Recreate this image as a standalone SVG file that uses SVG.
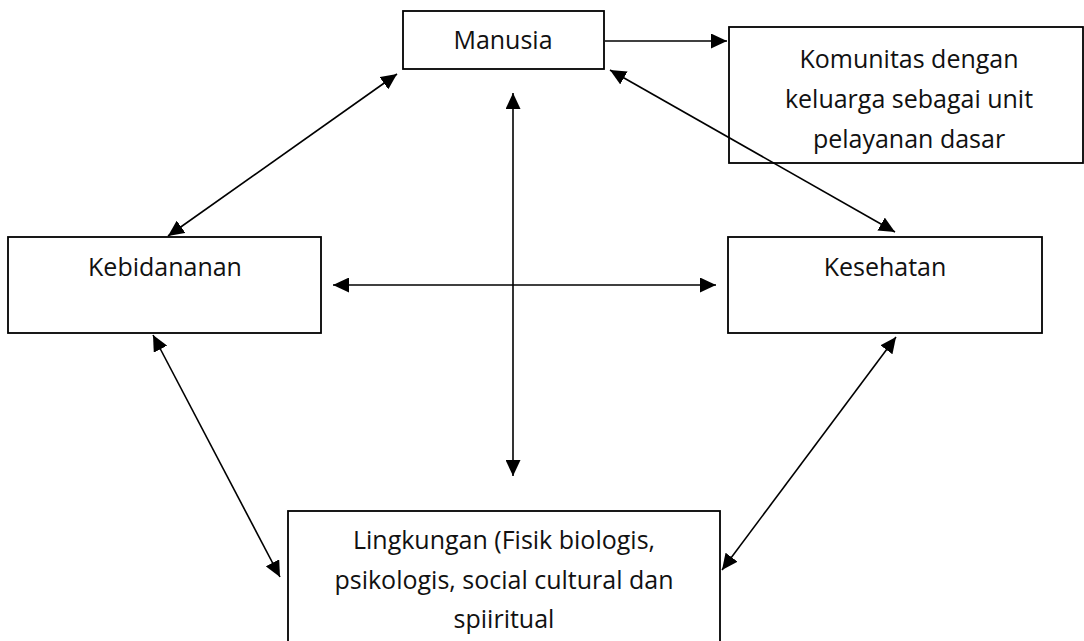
<svg xmlns="http://www.w3.org/2000/svg" width="1084" height="641" viewBox="0 0 1084 641">
<style>
.box{fill:#fff;stroke:#000;stroke-width:1.8}
.lbl{font-family:"Open Sans","Liberation Sans",sans-serif;font-size:25px;fill:#111;text-anchor:middle}
.con{stroke:#000;stroke-width:1.6;fill:none;marker-end:url(#ah);marker-start:url(#ah)}
.one{stroke:#000;stroke-width:1.6;fill:none;marker-end:url(#ah)}
</style>
<defs>
<marker id="ah" markerUnits="userSpaceOnUse" markerWidth="17" markerHeight="15" viewBox="0 0 17 15" refX="16" refY="7.5" orient="auto-start-reverse">
<path d="M0,0 L16,7.5 L0,15 Z" fill="#000"/>
</marker>
</defs>
<rect width="1084" height="641" fill="#fff"/>
<g id="manusia"><rect class="box" x="403" y="11" width="201" height="58"/><text class="lbl" x="503" y="49">Manusia</text></g>
<g id="komunitas"><rect class="box" x="729" y="27" width="354" height="136"/><text class="lbl" x="909" y="68">Komunitas dengan</text><text class="lbl" x="909" y="108">keluarga sebagai unit</text><text class="lbl" x="909" y="148">pelayanan dasar</text></g>
<g id="kebidananan"><rect class="box" x="8" y="237" width="313" height="96"/><text class="lbl" x="165" y="276">Kebidananan</text></g>
<g id="kesehatan"><rect class="box" x="728" y="237" width="314" height="96"/><text class="lbl" x="885" y="276">Kesehatan</text></g>
<g id="lingkungan"><rect class="box" x="288" y="511" width="432" height="140"/><text class="lbl" x="504" y="549">Lingkungan (Fisik biologis,</text><text class="lbl" x="504" y="589">psikologis, social cultural dan</text><text class="lbl" x="504" y="628">spiiritual</text></g>
<g id="connectors">
<line class="one" x1="605" y1="41" x2="727" y2="41"/>
<line class="con" x1="397" y1="74" x2="168" y2="236"/>
<line class="con" x1="610" y1="70" x2="895" y2="232"/>
<line class="con" x1="513" y1="93" x2="513" y2="476"/>
<line class="con" x1="333" y1="285" x2="716" y2="285"/>
<line class="con" x1="153" y1="335" x2="280" y2="577"/>
<line class="con" x1="896" y1="337" x2="722" y2="570"/>
</g>
</svg>
